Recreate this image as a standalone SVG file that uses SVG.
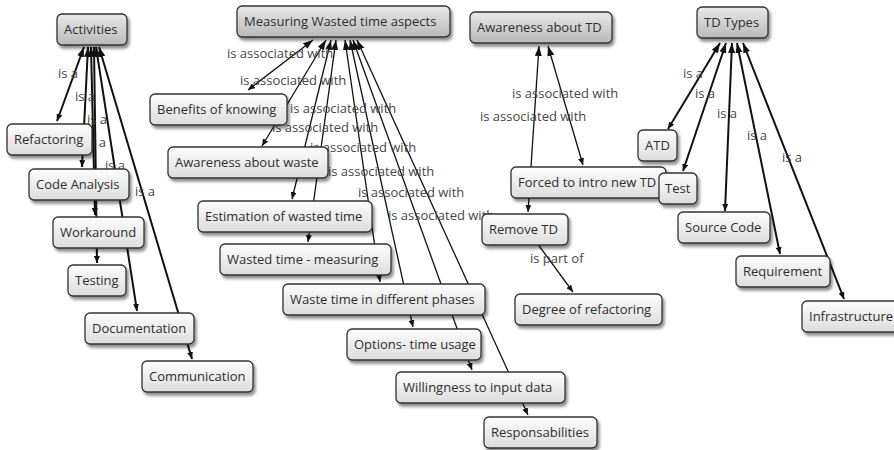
<svg xmlns="http://www.w3.org/2000/svg" width="894" height="450" viewBox="0 0 894 450">
  <style>
    text { font-family: "Open Sans", "Noto Sans", "DejaVu Sans", sans-serif; font-size: 13px; }
    .node rect { stroke: #333; stroke-width: 1.3; filter: url(#shadow); }
    .root rect { fill: url(#gradRoot); }
    .leaf rect { fill: url(#gradLeaf); }
    .node text { fill: #2e2e2e; }
    .lbl { fill: #474747; }
    .conn path { fill: none; stroke: #111; }
    .thick { stroke-width: 2; }
    .thin { stroke-width: 1.3; }
  </style>
  <defs>
    <linearGradient id="gradRoot" x1="0" y1="0" x2="0" y2="1">
      <stop offset="0" stop-color="#e8e8e8"/>
      <stop offset="1" stop-color="#b9b9b9"/>
    </linearGradient>
    <linearGradient id="gradLeaf" x1="0" y1="0" x2="0" y2="1">
      <stop offset="0" stop-color="#fdfdfd"/>
      <stop offset="1" stop-color="#dcdcdc"/>
    </linearGradient>
    <filter id="shadow" x="-10%" y="-20%" width="130%" height="160%">
      <feDropShadow dx="2" dy="3" stdDeviation="1.6" flood-color="#000" flood-opacity="0.45"/>
    </filter>
    <marker id="head" viewBox="0 0 10 8" refX="10" refY="4" markerWidth="10" markerHeight="8" markerUnits="userSpaceOnUse" orient="auto">
      <path d="M0,0.5 L10,4 L0,7.5 Z" fill="#111"/>
    </marker>
    <marker id="tail" viewBox="0 0 7 6" refX="7" refY="3" markerWidth="7" markerHeight="6" markerUnits="userSpaceOnUse" orient="auto-start-reverse">
      <path d="M0,0 L7,3 L0,6 Z" fill="#111"/>
    </marker>
  </defs>

  <!-- connectors and linking phrases (drawn beneath the concepts) -->
  <g id="connectors" class="conn">
    <!-- Activities: is a -->
    <path class="thick" d="M57,121 L84,47" marker-start="url(#tail)" marker-end="url(#head)"/>
    <path class="thick" d="M82,167 L88,47" marker-start="url(#tail)" marker-end="url(#head)"/>
    <path class="thick" d="M95,215 L91,47" marker-start="url(#tail)" marker-end="url(#head)"/>
    <path class="thick" d="M97,263 L94,47" marker-start="url(#tail)" marker-end="url(#head)"/>
    <path class="thick" d="M137,311 L96,47" marker-start="url(#tail)" marker-end="url(#head)"/>
    <path class="thick" d="M192,359 L99,47" marker-start="url(#tail)" marker-end="url(#head)"/>

    <!-- Measuring Wasted time aspects: is associated with -->
    <path class="thin" d="M248,90 L313,40" marker-start="url(#tail)" marker-end="url(#head)"/>
    <path class="thin" d="M262,146 L326,40" marker-start="url(#tail)" marker-end="url(#head)"/>
    <path class="thin" d="M292,199 L331,40" marker-start="url(#tail)" marker-end="url(#head)"/>
    <path class="thin" d="M308,242 L336,40" marker-start="url(#tail)" marker-end="url(#head)"/>
    <path class="thin" d="M380,282 L345,40" marker-start="url(#tail)" marker-end="url(#head)"/>
    <path class="thin" d="M413,327 L350,40" marker-start="url(#tail)" marker-end="url(#head)"/>
    <path class="thin" d="M472,370 L353,40" marker-start="url(#tail)" marker-end="url(#head)"/>
    <path class="thin" d="M528,415 L357,40" marker-start="url(#tail)" marker-end="url(#head)"/>

    <!-- Awareness about TD -->
    <path class="thin" d="M528,212 L539,46" marker-start="url(#tail)" marker-end="url(#head)"/>
    <path class="thin" d="M583,165 L548,46" marker-start="url(#tail)" marker-end="url(#head)"/>

    <!-- Remove TD: is part of -->
    <path class="thin" d="M537,243 L573,292" marker-end="url(#tail)"/>

    <!-- TD Types: is a -->
    <path class="thick" d="M668,129 L720,43" marker-start="url(#tail)" marker-end="url(#head)"/>
    <path class="thick" d="M683,171 L726,43" marker-start="url(#tail)" marker-end="url(#head)"/>
    <path class="thick" d="M725,211 L732,43" marker-start="url(#tail)" marker-end="url(#head)"/>
    <path class="thick" d="M780,254 L737,43" marker-start="url(#tail)" marker-end="url(#head)"/>
    <path class="thick" d="M844,299 L743,43" marker-start="url(#tail)" marker-end="url(#head)"/>

    <!-- linking phrases -->
    <text class="lbl" x="58" y="78">is a</text>
    <text class="lbl" x="75" y="101">is a</text>
    <text class="lbl" x="87" y="124">is a</text>
    <text class="lbl" x="86" y="147">is a</text>
    <text class="lbl" x="105" y="170">is a</text>
    <text class="lbl" x="135" y="196">is a</text>

    <text class="lbl" x="227" y="58">is associated with</text>
    <text class="lbl" x="240" y="85">is associated with</text>
    <text class="lbl" x="290" y="113">is associated with</text>
    <text class="lbl" x="272" y="132">is associated with</text>
    <text class="lbl" x="310" y="152">is associated with</text>
    <text class="lbl" x="328" y="176">is associated with</text>
    <text class="lbl" x="358" y="197">is associated with</text>
    <text class="lbl" x="388" y="220">is associated with</text>

    <text class="lbl" x="512" y="98">is associated with</text>
    <text class="lbl" x="480" y="121">is associated with</text>
    <text class="lbl" x="530" y="263">is part of</text>

    <text class="lbl" x="683" y="78">is a</text>
    <text class="lbl" x="695" y="98">is a</text>
    <text class="lbl" x="717" y="118">is a</text>
    <text class="lbl" x="747" y="140">is a</text>
    <text class="lbl" x="782" y="162">is a</text>
  </g>

  <!-- top-level concepts -->
  <g id="activities" class="node root"><rect x="57" y="14" width="70" height="31" rx="5"/><text x="64" y="34">Activities</text></g>
  <g id="measuring-wasted-time" class="node root"><rect x="237" y="6" width="213" height="31" rx="5"/><text x="244" y="26">Measuring Wasted time aspects</text></g>
  <g id="awareness-td" class="node root"><rect x="470" y="12" width="142" height="31" rx="5"/><text x="477" y="32">Awareness about TD</text></g>
  <g id="td-types" class="node root"><rect x="697" y="7" width="71" height="31" rx="5"/><text x="704" y="27">TD Types</text></g>

  <!-- activities -->
  <g id="refactoring" class="node leaf"><rect x="7" y="124" width="85" height="31" rx="5"/><text x="14" y="144">Refactoring</text></g>
  <g id="code-analysis" class="node leaf"><rect x="29" y="169" width="100" height="31" rx="5"/><text x="36" y="189">Code Analysis</text></g>
  <g id="workaround" class="node leaf"><rect x="53" y="217" width="91" height="31" rx="5"/><text x="60" y="237">Workaround</text></g>
  <g id="testing" class="node leaf"><rect x="68" y="265" width="58" height="31" rx="5"/><text x="75" y="285">Testing</text></g>
  <g id="documentation" class="node leaf"><rect x="85" y="313" width="109" height="31" rx="5"/><text x="92" y="333">Documentation</text></g>
  <g id="communication" class="node leaf"><rect x="142" y="361" width="111" height="31" rx="5"/><text x="149" y="381">Communication</text></g>

  <!-- wasted time aspects -->
  <g id="benefits-of-knowing" class="node leaf"><rect x="150" y="94" width="137" height="31" rx="5"/><text x="157" y="114">Benefits of knowing</text></g>
  <g id="awareness-waste" class="node leaf"><rect x="168" y="147" width="160" height="31" rx="5"/><text x="175" y="167">Awareness about waste</text></g>
  <g id="estimation" class="node leaf"><rect x="198" y="201" width="174" height="31" rx="5"/><text x="205" y="221">Estimation of wasted time</text></g>
  <g id="wasted-time-measuring" class="node leaf"><rect x="220" y="244" width="171" height="31" rx="5"/><text x="227" y="264">Wasted time - measuring</text></g>
  <g id="waste-time-phases" class="node leaf"><rect x="283" y="284" width="202" height="31" rx="5"/><text x="290" y="304">Waste time in different phases</text></g>
  <g id="options-time-usage" class="node leaf"><rect x="347" y="329" width="134" height="31" rx="5"/><text x="354" y="349">Options- time usage</text></g>
  <g id="willingness" class="node leaf"><rect x="396" y="372" width="169" height="31" rx="5"/><text x="403" y="392">Willingness to input data</text></g>
  <g id="responsabilities" class="node leaf"><rect x="484" y="417" width="113" height="31" rx="5"/><text x="491" y="437">Responsabilities</text></g>

  <!-- TD awareness -->
  <g id="forced-new-td" class="node leaf"><rect x="511" y="167" width="155" height="31" rx="5"/><text x="518" y="187">Forced to intro new TD</text></g>
  <g id="remove-td" class="node leaf"><rect x="482" y="214" width="86" height="31" rx="5"/><text x="489" y="234">Remove TD</text></g>
  <g id="degree-refactoring" class="node leaf"><rect x="515" y="294" width="147" height="31" rx="5"/><text x="522" y="314">Degree of refactoring</text></g>

  <!-- TD types -->
  <g id="atd" class="node leaf"><rect x="638" y="130" width="39" height="31" rx="5"/><text x="645" y="150">ATD</text></g>
  <g id="test" class="node leaf"><rect x="659" y="173" width="38" height="31" rx="5"/><text x="665" y="193">Test</text></g>
  <g id="source-code" class="node leaf"><rect x="678" y="212" width="92" height="31" rx="5"/><text x="685" y="232">Source Code</text></g>
  <g id="requirement" class="node leaf"><rect x="736" y="256" width="94" height="31" rx="5"/><text x="743" y="276">Requirement</text></g>
  <g id="infrastructure" class="node leaf"><rect x="802" y="301" width="100" height="31" rx="5"/><text x="809" y="321">Infrastructure</text></g>
</svg>
